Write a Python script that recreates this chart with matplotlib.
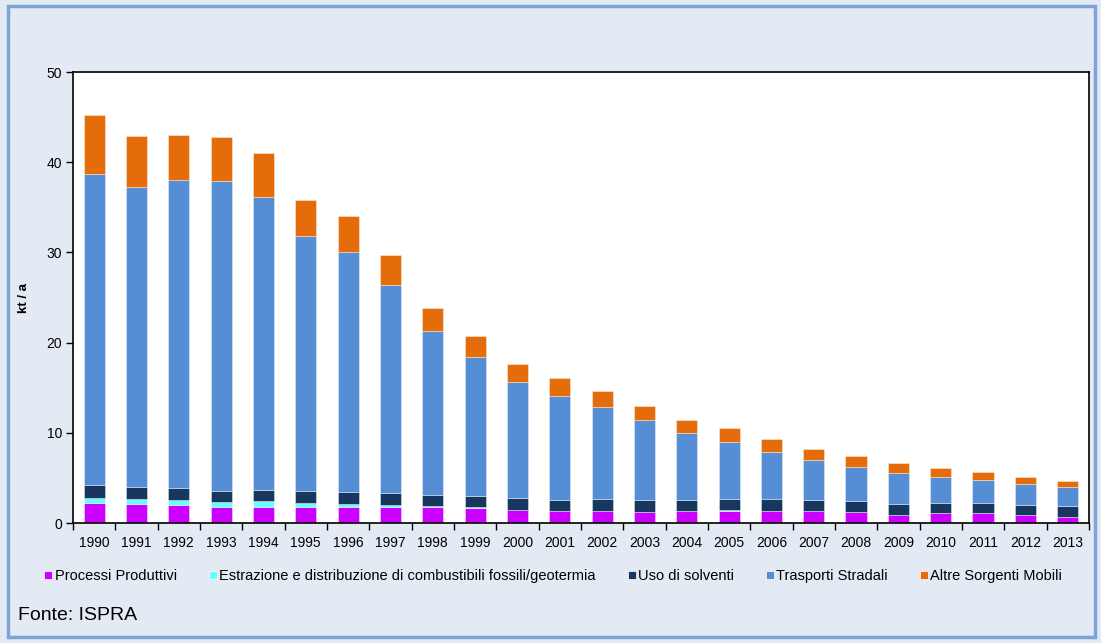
import matplotlib.pyplot as plt
import numpy as np
from matplotlib.patches import Rectangle

# dati (kt / a)
anni = [str(a) for a in range(1990, 2014)]
processi = [2.18, 2.10, 1.96, 1.74, 1.81, 1.74, 1.74, 1.81, 1.78, 1.66, 1.40, 1.29,
            1.29, 1.18, 1.29, 1.37, 1.33, 1.29, 1.18, 0.92, 1.07, 1.10, 0.92, 0.63]
estrazione = [0.63, 0.60, 0.60, 0.59, 0.63, 0.51, 0.37, 0.22, 0.11, 0.08, 0.08, 0.04,
              0.03, 0.03, 0.03, 0.03, 0.03, 0.03, 0.03, 0.02, 0.02, 0.02, 0.02, 0.02]
solventi = [1.37, 1.30, 1.36, 1.17, 1.23, 1.25, 1.29, 1.26, 1.25, 1.25, 1.25, 1.27,
            1.38, 1.31, 1.28, 1.30, 1.34, 1.28, 1.23, 1.16, 1.09, 1.14, 1.09, 1.20]
trasporti = [34.50, 33.20, 34.10, 34.40, 32.50, 28.30, 26.60, 23.10, 18.20, 15.40, 12.90, 11.50,
             10.20, 8.85, 7.37, 6.23, 5.15, 4.36, 3.82, 3.42, 2.93, 2.52, 2.30, 2.11]
altre = [6.60, 5.70, 5.00, 4.90, 4.90, 4.00, 4.00, 3.30, 2.50, 2.30, 2.00, 2.00,
         1.70, 1.60, 1.50, 1.60, 1.50, 1.30, 1.20, 1.10, 1.00, 0.90, 0.80, 0.70]

serie = [
    ("Processi Produttivi", processi, "#CC00FF"),
    ("Estrazione e distribuzione di combustibili fossili/geotermia", estrazione, "#66FFFF"),
    ("Uso di solventi", solventi, "#17375E"),
    ("Trasporti Stradali", trasporti, "#558ED5"),
    ("Altre Sorgenti Mobili", altre, "#E46C0A"),
]

plt.rcParams['font.family'] = ['Liberation Sans', 'DejaVu Sans']

fig = plt.figure(figsize=(11.01, 6.43), dpi=100)
fig.patch.set_facecolor("#E4EAF4")
# cornice esterna
fig.patches.append(Rectangle((0.007, 0.009), 0.988, 0.981, transform=fig.transFigure,
                             fill=False, edgecolor="#7FA3D9", linewidth=2.5))

ax = fig.add_axes([0.0663, 0.1866, 0.9227, 0.7014])
ax.set_facecolor("white")

x = np.arange(len(anni))
base = np.zeros(len(anni))
handles = []
for nome, valori, colore in serie:
    ax.bar(x, valori, width=0.5, bottom=base, color=colore,
           edgecolor=(1, 1, 1, 0.45), linewidth=0.6, label=nome)
    base += np.array(valori)
    handles.append(plt.Line2D([], [], marker="s", linestyle="", markersize=6,
                              markerfacecolor=colore, markeredgecolor="white",
                              markeredgewidth=0.5, label=nome))

ax.set_xlim(-0.5, len(anni) - 0.5)
ax.set_ylim(0, 50)
ax.set_yticks([0, 10, 20, 30, 40, 50])
ax.set_xticks(x)
ax.set_xticklabels(anni)
ax.set_xticks(np.arange(-0.5, len(anni)), minor=True)
ax.tick_params(axis="x", which="major", length=0, labelsize=10, pad=9)
ax.tick_params(axis="x", which="minor", length=5, direction="out", width=1)
ax.tick_params(axis="y", length=5, direction="out", width=1, labelsize=10, pad=3)
for s in ax.spines.values():
    s.set_color("black")
    s.set_linewidth(1.2)

ax.set_ylabel("kt / a", fontsize=9.5, fontweight="bold", labelpad=12)

fig.legend(handles=handles, loc="center left", bbox_to_anchor=(0.028, 0.104), ncol=5,
           frameon=False, handlelength=0.6, handletextpad=0.15, columnspacing=2.15,
           prop={"size": 10.5})

fig.text(0.016, 0.035, "Fonte: ISPRA", fontsize=14)

plt.savefig("out.png", dpi=100, facecolor=fig.get_facecolor())
